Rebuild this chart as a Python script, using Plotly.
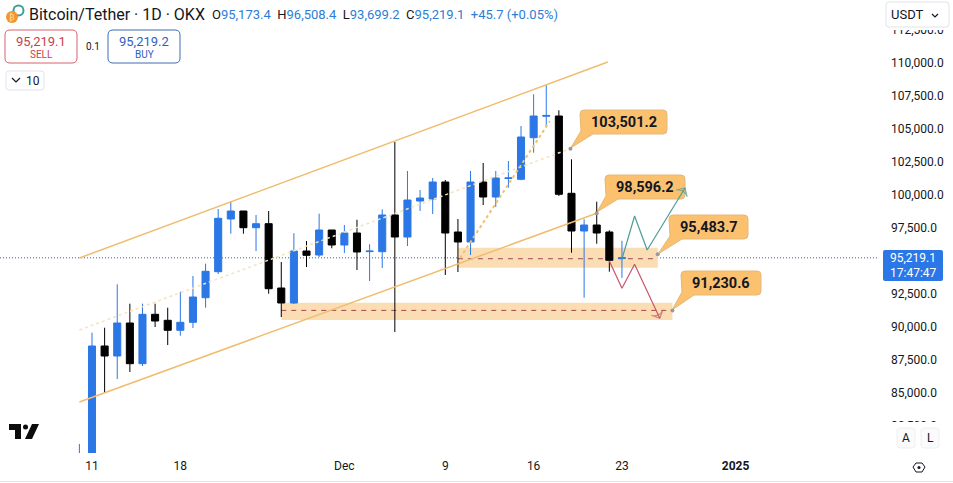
import pandas as pd
import plotly.graph_objects as go

W = 953
H = 483
PLOT_W = 878
PLOT_H = 453

# daily candles, Nov 10 to Dec 23
dates = pd.date_range("2024-11-10", "2024-12-23").strftime("%Y-%m-%d").tolist()
opens = [78500, 79500, 88529, 87770, 90274, 87186, 90934, 90479, 89720, 90327, 92193,
         94166, 98164, 98771, 97504, 97808, 92929, 91791, 95737, 95433, 97330,
         96192, 97102, 95690, 95684, 98468, 96799, 99530, 99682, 100972, 97178,
         96419, 100972, 99833, 101240, 101176, 104333, 105960, 105979, 100114, 97254,
         97709, 97178, 95173.4]
highs = [81100, 89538, 89917, 93210, 91740, 91740, 91740, 91435, 92649, 93840, 94773,
         98923, 99530, 98771, 98468, 98771, 94902, 97080, 96495, 98567, 97330,
         97709, 98111, 96245, 98900, 104006, 101806, 100365, 101275, 101123, 98164,
         101806, 102413, 101806, 102565, 105220, 107625, 108331, 106411, 102694, 98141,
         99477, 97307, 96508.4]
lows = [78000, 79000, 84963, 86025, 86556, 87011, 89970, 88605, 89310, 89895, 91435,
        93991, 97049, 97049, 95737, 92497, 90729, 91716, 94523, 95281, 95942,
        95585, 94295, 93460, 94447, 89591, 96116, 98771, 98544, 93916, 94143,
        95433, 99227, 99075, 100540, 101100, 103195, 105220, 99909, 95608, 92193,
        96290, 94166, 93699.2]
closes = [79500, 88529, 87770, 90274, 87186, 90934, 90426, 89720, 90327, 92247, 94197,
          98217, 98771, 97504, 97808, 92876, 91791, 95737, 95410, 97330, 96192,
          97102, 95661, 95730, 98468, 96799, 99606, 99757, 100972, 97102, 96419,
          100972, 99833, 101275, 101280, 104386, 105979, 106020, 100038, 97254, 97709,
          97102, 95031, 95219.1]

last_price = 95219.1
y_ticks = [82500, 85000, 87500, 90000, 92500, 97500, 100000, 102500, 105000, 107500, 110000, 112500]
x_ticks = ["2024-11-11", "2024-11-18", "2024-12-01", "2024-12-09", "2024-12-16", "2024-12-23", "2025-01-01"]
x_labels = ["11", "18", "Dec", "9", "16", "23", "<b>2025</b>"]

upper_x = ["2024-11-10", "2024-12-21 21:00"]
upper_y = [95205, 110076]
lower_x = ["2024-11-10", "2024-12-21"]
lower_y = [84281, 98596.2]
mid_x = ["2024-11-10", "2024-12-18 22:00"]
mid_y = [89743, 103501.2]
swing_x = ["2024-12-10 04:00", "2024-12-17 07:00"]
swing_y = [95205, 105600]
green_x = ["2024-12-23", "2024-12-24", "2024-12-25", "2024-12-28"]
green_y = [95130, 98392, 95812, 100516]
red_x = ["2024-12-22", "2024-12-23", "2024-12-24", "2024-12-26"]
red_y = [94978, 92907, 94727, 90631]

tip_x = ["2024-12-18 22:00", "2024-12-21", "2024-12-25 20:00", "2024-12-27"]
tip_y = [103501.2, 98596.2, 95483.7, 91230.6]
tip_labels = ["103,501.2", "98,596.2", "95,483.7", "91,230.6"]


def px(x):
    return x / PLOT_W


def py(y):
    return 1 - y / PLOT_H


def round_path(x0, y0, x1, y1, r, tip=None):
    # rounded box in pixels, with an optional tail going down-left
    p = f"M {px(x0 + r)} {py(y0)} L {px(x1 - r)} {py(y0)} Q {px(x1)} {py(y0)} {px(x1)} {py(y0 + r)} "
    p += f"L {px(x1)} {py(y1 - r)} Q {px(x1)} {py(y1)} {px(x1 - r)} {py(y1)} "
    if tip:
        p += f"L {px(x0 + 13)} {py(y1)} L {px(tip[0])} {py(tip[1])} L {px(x0 + 1)} {py(y1 - 3)} "
    else:
        p += f"L {px(x0 + r)} {py(y1)} Q {px(x0)} {py(y1)} {px(x0)} {py(y1 - r)} "
    p += f"L {px(x0)} {py(y0 + r)} Q {px(x0)} {py(y0)} {px(x0 + r)} {py(y0)} Z"
    return p


def box(x0, y0, x1, y1, r, fill="white", line="rgba(0,0,0,0)", width=1, layer="above"):
    return dict(type="path", path=round_path(x0, y0, x1, y1, r), xref="paper", yref="paper",
                fillcolor=fill, line=dict(color=line, width=width), layer=layer)


def poly(points, fill="rgba(0,0,0,0)", line="rgba(0,0,0,0)", width=1, close=True):
    p = "M " + " L ".join(f"{px(a)} {py(b)}" for a, b in points)
    if close:
        p += " Z"
    return dict(type="path", path=p, xref="paper", yref="paper", fillcolor=fill,
                line=dict(color=line, width=width), layer="above")


def circle(cx, cy, r, fill):
    return dict(type="circle", xref="paper", yref="paper", x0=px(cx - r), x1=px(cx + r), y0=py(cy + r), y1=py(cy - r),
                fillcolor=fill, line=dict(width=0), layer="above")


def label(x, y, text, size=12, color="#131722", anchor="left", font="Roboto"):
    return dict(xref="paper", yref="paper", x=px(x), y=py(y), text=text, showarrow=False, xanchor=anchor,
                yanchor="middle", font=dict(family=font, size=size, color=color), borderpad=0)


BLUE = "#2B77E6"
ORANGE = "#F0BC6E"
ZONE = "#FBDDB4"
CALLOUT = "#FBC16F"

fig = go.Figure()
fig.add_trace(go.Candlestick(
    x=dates, open=opens, high=highs, low=lows, close=closes,
    increasing=dict(line=dict(color=BLUE, width=1), fillcolor=BLUE),
    decreasing=dict(line=dict(color="#000000", width=1), fillcolor="#000000"),
    whiskerwidth=0, hoverinfo="skip"))

fig.add_trace(go.Scatter(x=mid_x, y=mid_y, mode="lines", line=dict(color="#F6E2BF", width=1.5, dash="dot"), hoverinfo="skip"))
fig.add_trace(go.Scatter(x=swing_x, y=swing_y, mode="lines", line=dict(color="#F0C070", width=2, dash="dot"), hoverinfo="skip"))
fig.add_trace(go.Scatter(x=upper_x, y=upper_y, mode="lines", line=dict(color=ORANGE, width=1.5), hoverinfo="skip"))
fig.add_trace(go.Scatter(x=lower_x, y=lower_y, mode="lines", line=dict(color=ORANGE, width=1.5), hoverinfo="skip"))
fig.add_trace(go.Scatter(x=green_x, y=green_y, mode="lines+markers", line=dict(color="#4F9C96", width=1.2),
                         marker=dict(symbol="arrow-wide-open", size=[0, 0, 0, 9], angleref="previous",
                                     line=dict(color="#4F9C96", width=1.2), color="#4F9C96"), hoverinfo="skip"))
fig.add_trace(go.Scatter(x=red_x, y=red_y, mode="lines+markers", line=dict(color="#C8566A", width=1.2),
                         marker=dict(symbol="arrow-wide-open", size=[0, 0, 0, 9], angleref="previous",
                                     line=dict(color="#C8566A", width=1.2), color="#C8566A"), hoverinfo="skip"))
fig.add_trace(go.Scatter(x=tip_x, y=tip_y, mode="markers", marker=dict(color="#9A9A9A", size=4), hoverinfo="skip"))

shapes = [
    # demand zones
    dict(type="rect", xref="x", yref="y", x0="2024-12-10", x1="2024-12-25 20:00", y0=94470, y1=95987,
         fillcolor=ZONE, line=dict(width=0), layer="below"),
    dict(type="rect", xref="x", yref="y", x0="2024-11-26", x1="2024-12-27", y0=90502, y1=91814,
         fillcolor=ZONE, line=dict(width=0), layer="below"),
    dict(type="line", xref="x", yref="y", x0="2024-12-10", x1="2024-12-25 20:00", y0=95150, y1=95150,
         line=dict(color="#A04A55", width=1, dash="5px,5px"), layer="below"),
    dict(type="line", xref="x", yref="y", x0="2024-11-26", x1="2024-12-27", y0=91230.6, y1=91230.6,
         line=dict(color="#A84450", width=1, dash="5px,5px"), layer="below"),
    dict(type="line", xref="paper", yref="y", x0=0, x1=1, y0=last_price, y1=last_price,
         line=dict(color="#3F6390", width=1, dash="1px,2px"), layer="below"),
]

# callouts go under the traces so the arrow sits on top of the box
callouts = [(580, 110, 667, 134, (570.7, 148)), (605, 175, 685, 199, (597, 212)),
            (669, 215, 748, 239, (658, 254)), (681, 271, 761, 295, (672, 310))]
for x0, y0, x1, y1, tip in callouts:
    shapes.append(dict(type="path", path=round_path(x0, y0, x1, y1, 4, tip), xref="paper", yref="paper",
                       fillcolor=CALLOUT, line=dict(color="#E3B878", width=1), layer="below"))

# clipped axis labels at both ends of the price scale
shapes.append(dict(type="rect", xref="paper", yref="paper", x0=px(PLOT_W), x1=px(W), y0=py(30), y1=py(0),
                   fillcolor="white", line=dict(width=0), layer="above"))
shapes.append(dict(type="rect", xref="paper", yref="paper", x0=px(PLOT_W), x1=px(W), y0=py(PLOT_H), y1=py(422),
                   fillcolor="white", line=dict(width=0), layer="above"))

shapes += [
    box(886, 2, 949, 27, 3, line="#E0E3EB"),
    poly([(932, 14), (935, 17), (938, 14)], line="#131722", width=1.2, close=False),
    box(883, 250, 943, 281, 2, fill=BLUE),
    box(5, 30, 77, 63, 5, line="#D8606E"),
    box(108, 30, 180, 63, 5, line="#3F6DB5"),
    box(6, 71, 44, 90, 3, line="#E0E3EB"),
    poly([(12, 78), (16, 82), (20, 78)], line="#131722", width=1.2, close=False),
    box(897, 428, 915, 448, 3, fill="#FBFBFB", line="#EFEFEF"),
    box(921, 428, 939, 448, 3, fill="#FBFBFB", line="#EFEFEF"),
    poly([(913, 467), (916, 463), (922, 463), (925, 467), (922, 472), (916, 472)], line="#131722", width=1),
    circle(919, 467.5, 1.5, "#131722"),
    dict(type="line", xref="paper", yref="paper", x0=0, x1=1.09, y0=py(481.5), y1=py(481.5),
         line=dict(color="#E0E3EB", width=1), layer="above"),
    # symbol icon
    circle(18.5, 10.5, 6, "#3E9C9A"),
    circle(18.5, 10.5, 4, "white"),
    circle(12, 17, 6, "#F3952B"),
    # TradingView mark
    poly([(9, 424), (21, 424), (21, 439), (15, 439), (15, 430), (9, 430)], fill="#0C0C0C"),
    circle(25.5, 427, 2.5, "#0C0C0C"),
    poly([(32, 424), (39, 424), (32, 439), (25, 439)], fill="#0C0C0C"),
]

ohlc = ("O<span style='color:#2C7DD8'>95,173.4</span>&nbsp; H<span style='color:#2C7DD8'>96,508.4</span>&nbsp; "
        "L<span style='color:#2C7DD8'>93,699.2</span>&nbsp; C<span style='color:#2C7DD8'>95,219.1</span>&nbsp; "
        "<span style='color:#2C7DD8'>+45.7 (+0.05%)</span>")

annotations = [
    label(28, 14, "Bitcoin/Tether · 1D · OKX", size=16),
    label(211, 14, ohlc, size=13),
    label(41, 41, "95,219.1", size=13, color="#C8414F", anchor="center"),
    label(41, 55, "SELL", size=10, color="#C8414F", anchor="center"),
    label(92.5, 47, "0.1", size=10, anchor="center"),
    label(144, 41, "95,219.2", size=13, color="#2F5FC0", anchor="center"),
    label(144, 55, "BUY", size=10, color="#2F5FC0", anchor="center"),
    label(33, 81, "10", size=12, anchor="center"),
    label(890, 15, "USDT", size=13),
    label(913, 258, "95,219.1", size=12, color="white", anchor="center"),
    label(913, 273, "17:47:47", size=12, color="white", anchor="center"),
    label(906, 438, "A", size=12, anchor="center"),
    label(930, 438, "L", size=12, anchor="center"),
    label(12, 17, "₿", size=8, color="#FBE3B8", anchor="center", font="DejaVu Sans"),
]
for (x0, y0, x1, y1, tip), text in zip(callouts, tip_labels):
    annotations.append(label((x0 + x1) / 2, (y0 + y1) / 2, f"<b>{text}</b>", size=14.5, anchor="center"))

fig.update_layout(
    width=W, height=H,
    margin=dict(l=0, r=W - PLOT_W, t=0, b=H - PLOT_H),
    paper_bgcolor="white", plot_bgcolor="white",
    showlegend=False,
    boxgap=0.2,
    shapes=shapes, annotations=annotations,
    font=dict(family="Roboto", size=12, color="#131722"),
    xaxis=dict(type="date", range=["2024-11-03 17:00", "2025-01-12 07:00"], rangeslider=dict(visible=False),
               showgrid=False, zeroline=False, showline=False, ticks="", ticklabelstandoff=4,
               tickmode="array", tickvals=x_ticks, ticktext=x_labels, tickfont=dict(size=12, color="#131722")),
    yaxis=dict(range=[80411, 114780], side="right", showgrid=False, zeroline=False, showline=False, ticks="",
               tickmode="array", tickvals=y_ticks, tickformat=",.1f", ticklabelstandoff=12,
               tickfont=dict(size=12, color="#131722")),
)

# the default 8px page margin would push the figure off the window
fig.write_html("out.html", config={"displayModeBar": False}, post_script="document.body.style.margin='0';")
